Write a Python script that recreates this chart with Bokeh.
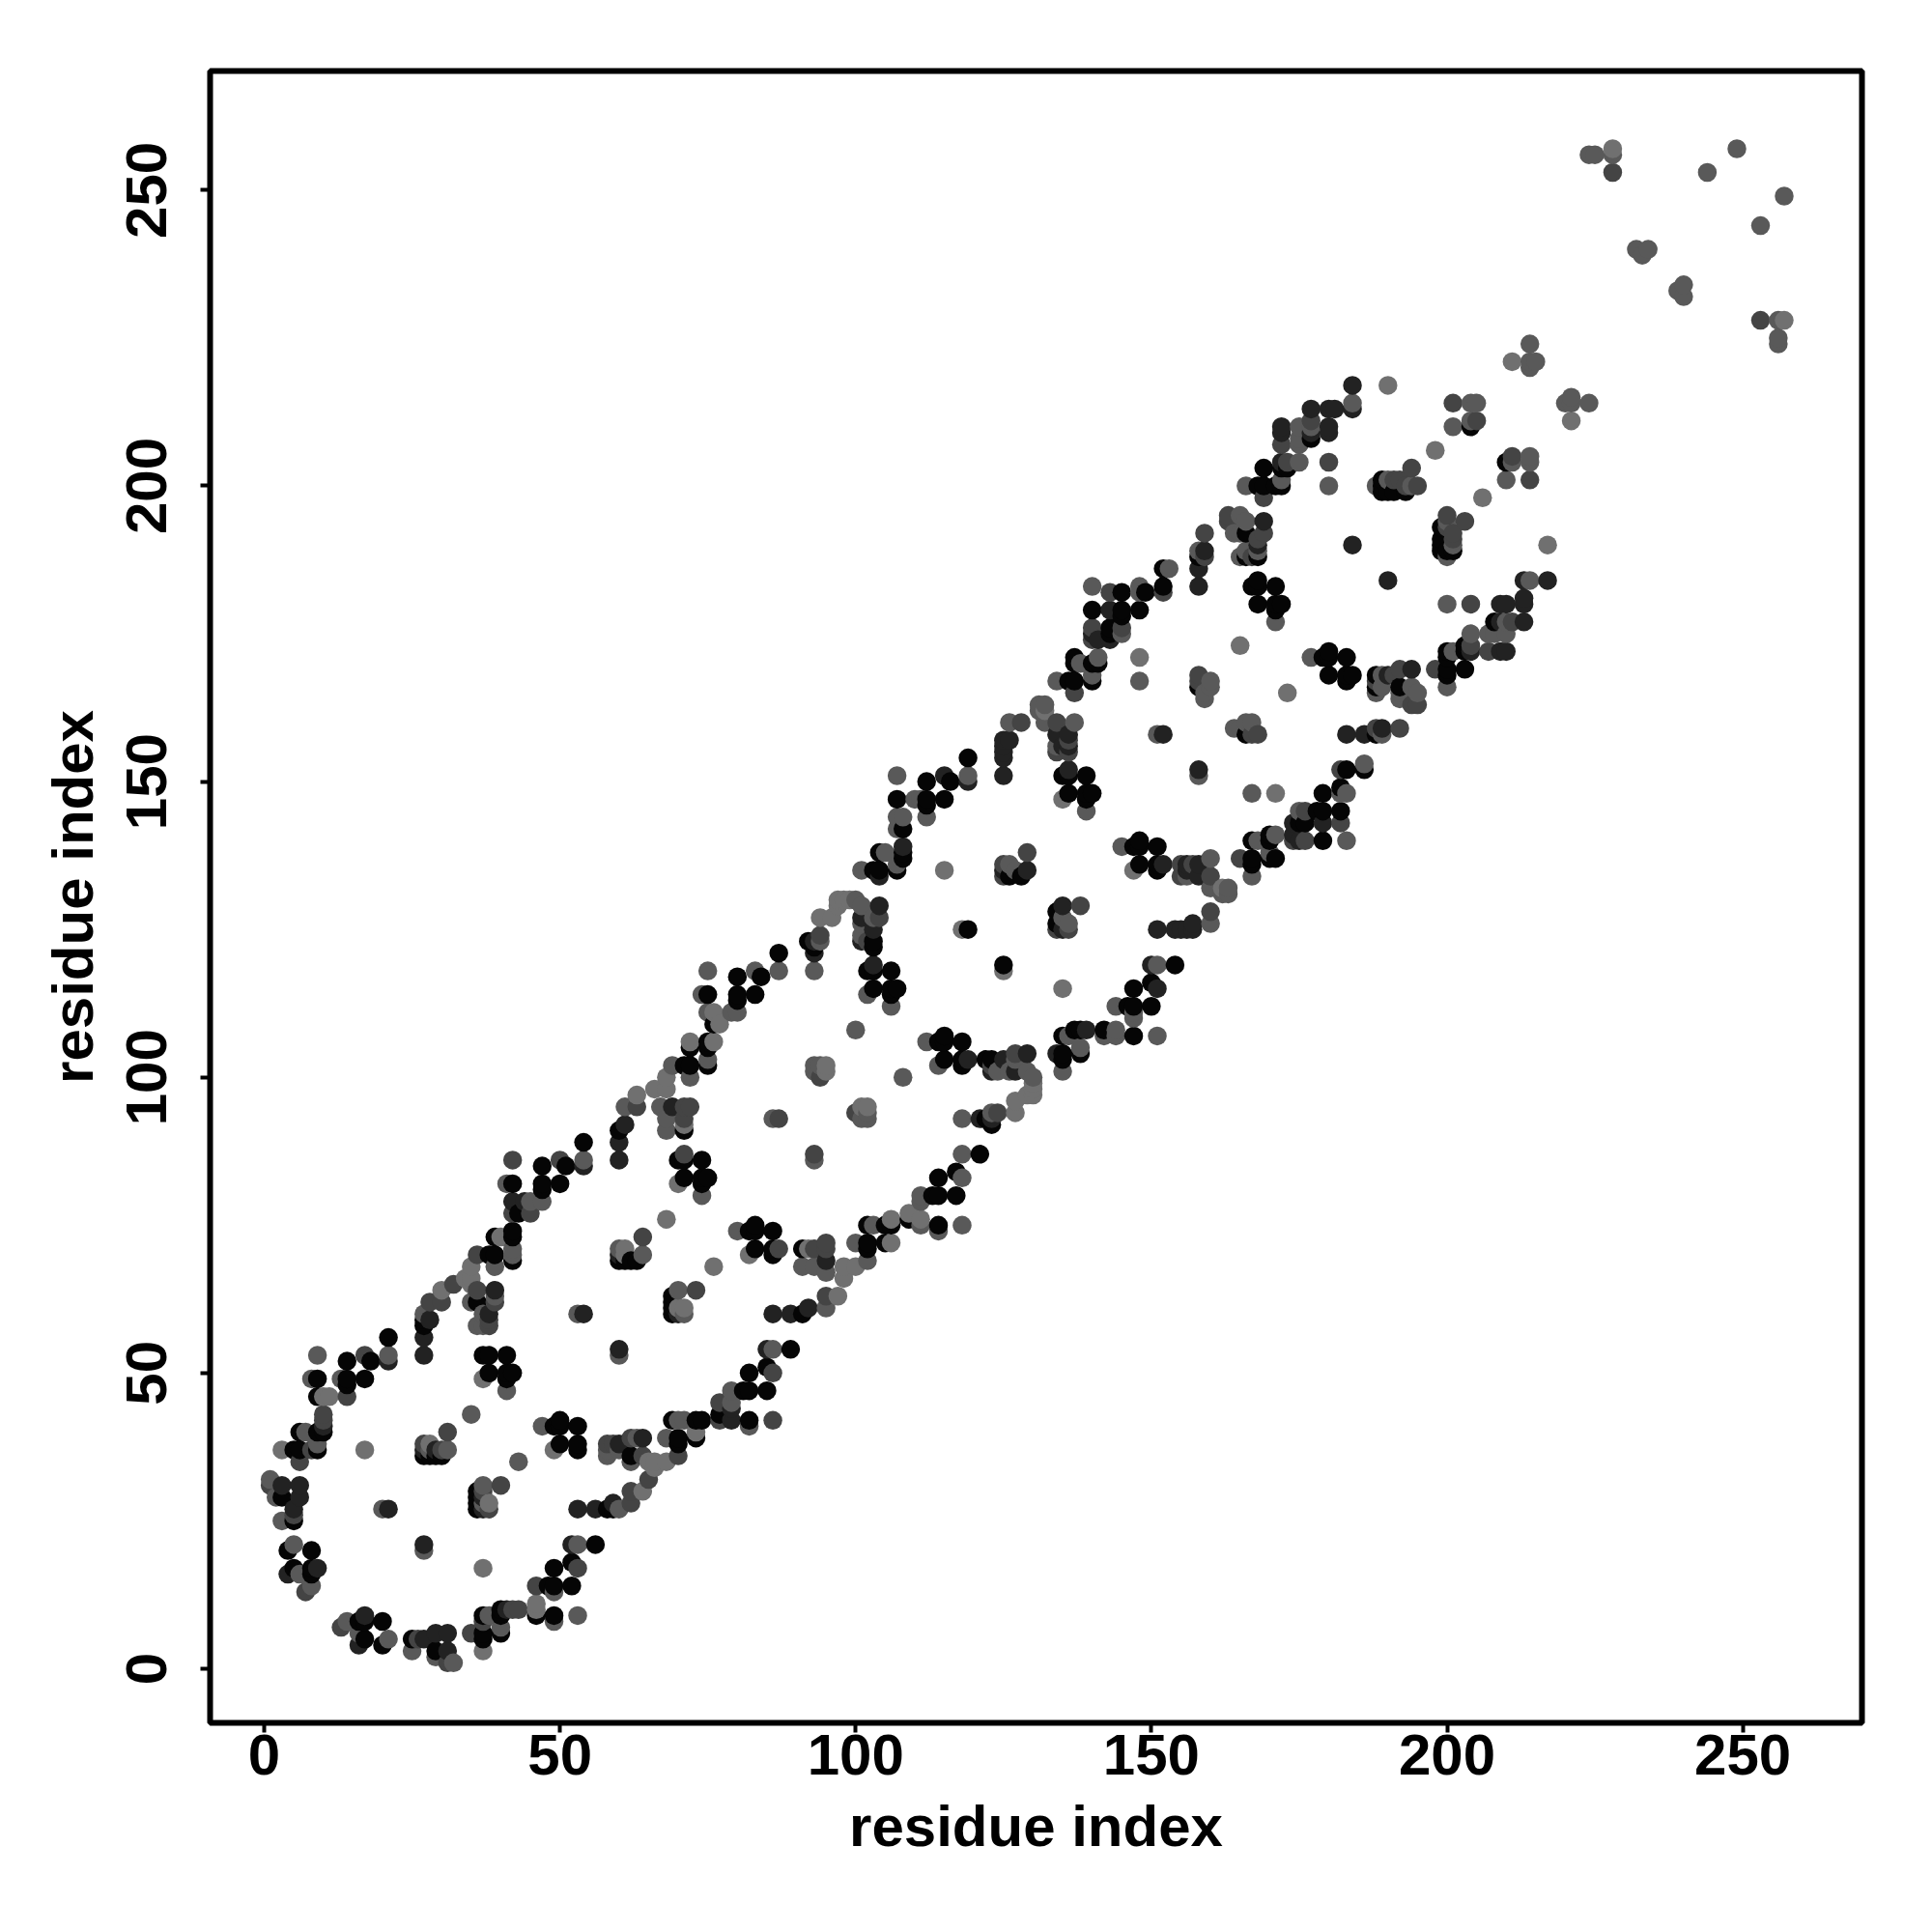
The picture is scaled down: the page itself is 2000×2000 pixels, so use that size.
from bokeh.plotting import figure
from bokeh.models import ColumnDataSource, FixedTicker
from bokeh.embed import file_html
from bokeh.resources import INLINE

tick_values = [0, 50, 100, 150, 200, 250]
axis_title = "residue index"

# contacts, as (lower residue, higher residue); the map is symmetric
black_contacts = [
 (21,56),(18,52),(14,52),(9,49),(14,49),(14,48),(17,49),(9,46),(9,40),(6,40),(9,37),(6,37),(5,37),(3,29),(5,25),
 (4,20),(8,20),(5,17),(8,17),(8,16),(10,40),(27,36),(28,36),(29,36),(30,36),(27,59),(27,58),(36,62),(38,70),(39,70),
 (39,73),(42,74),(42,73),(42,69),(43,77),(42,82),(47,82),(47,81),(50,82),(47,85),(51,85),(54,89),(60,91),(71,91),
 (37,53),(38,53),(41,53),(38,50),(41,50),(42,50),(41,49),(62,69),(63,69),(60,69),(61,69),(74,82),(74,83),(75,83),
 (71,83),(70,86),(74,86),(71,86),(87,121),(84,117),(80,117),(75,114),(80,114),(80,113),(83,114),(76,109),(72,105),
 (75,106),(75,105),(75,102),(72,102),(71,102),(92,123),(93,122),(103,123),(103,122),(102,118),(106,118),(103,115),
 (106,115),(107,115),(106,114),(140,179),(145,179),(145,178),(148,179),(143,176),(140,170),(141,170),
 (137,171),(137,167),(119,154),(107,147),(112,150),(112,147),(112,146),(115,147),(108,142),(108,138),(104,138),
 (107,135),(103,135),(104,135),(135,151),(139,151),(136,148),(139,148),(140,148),(139,147),(158,166),(148,140),
 (147,139),(148,139),(151,139),(148,136),(151,136),(151,135),(167,140),(167,137),(167,136),(170,141),(170,140),
 (170,137),(175,143),(134,128),(134,126),(119,125),(154,119),(147,115),(150,116),(147,112),(146,112),(147,107),
 (135,107),(137,108),(138,104),(135,104),(135,103),(115,107),(114,106),(115,106),(118,106),(115,103),(118,103),
 (118,102),(169,203),(172,203),(172,200),(169,200),(168,200),(166,192),(168,188),(158,188),(168,184),(167,183),
 (168,183),(171,183),(168,180),(171,180),(172,180),(171,179),(179,148),(182,149),(186,152),(182,145),(200,169),
 (200,168),(203,169),(200,172),(203,173),(203,172),(200,171),(192,166),(188,166),(188,168),(208,177),(204,210),
 (199,193),(199,191),(199,189),(201,189),(200,189),(190,199),(193,199),(145,182),(152,183),(152,186),(69,63),(69,60),
]
dark_contacts = [
 (21,52),(9,17),(6,31),(6,29),(5,27),(21,27),(27,56),(27,53),(28,59),(38,60),(39,64),(42,79),(44,79),(60,89),(60,86),
 (61,92),(69,95),(54,85),(4,16),(54,60),(60,70),(93,123),(93,121),(101,123),(104,129),(101,127),(143,179),(141,174),
 (143,174),(125,157),(125,154),(125,156),(125,151),(115,151),(116,150),(184,217),(184,213),(180,213),
 (181,213),(177,213),(177,209),(180,210),(180,209),(172,210),(172,204),(169,194),(168,190),(159,189),(158,186),
 (158,183),(158,152),(184,190),(152,158),(136,152),(103,119),(151,125),(154,125),(155,125),(157,125),(150,119),
 (150,112),(139,108),(138,108),(129,104),(125,103),(213,177),(213,180),(213,181),(210,180),(217,184),(213,184),
 (194,169),(186,158),(183,158),(184,168),(129,135),(128,134),(125,135),(136,156),(135,156),(134,158),(136,158),
 (104,134),(174,141),(175,140),(3,31),(10,41),(27,37),(29,37),(31,6),(6,31),(151,115),(126,157),(172,209),
]
mid_contacts = [
 (17,53),(14,46),(10,43),(6,35),(31,40),(30,37),(27,38),(28,62),(30,62),(32,65),(36,70),(36,64),(38,58),(39,62),(42,77),
 (45,77),(42,86),(50,86),(63,95),(71,93),(72,95),(64,73),(73,64),(71,87),(87,93),(94,124),(103,125),(104,127),(94,100),
 (145,176),(134,160),(143,182),(136,125),(134,125),(138,129),(165,137),(160,134),(155,136),(155,134),(157,136),
 (157,126),(157,125),(204,173),(210,172),(177,211),(180,204),(172,207),(173,204),(159,192),(163,195),(163,194),
 (169,198),(168,191),(167,188),(192,169),(192,159),(194,203),(183,152),(182,152),(201,191),(203,194),(211,205),
 (214,201),(201,214),(205,211),(228,253),(174,143),(160,128),(152,182),(189,159),(188,159),(190,168),(193,200),
 (195,200),(192,201),(195,163),(167,158),(168,158),(134,104),(123,103),(123,102),(71,95),(38,59),(10,42),(1,31),
 (8,37),(13,7),(7,13),(46,14),(14,46),(26,5),(17,5),(25,5),(140,176),(140,174),
]
grey_contacts = [
 (21,53),(9,53),(8,49),(13,49),(7,40),(9,38),(1,32),(2,29),(5,26),(3,25),(5,21),(6,16),(8,14),(7,13),(20,27),(35,43),
 (28,37),(31,37),(41,47),(27,60),(37,60),(37,58),(36,58),(35,62),(39,63),(39,68),(41,82),(47,79),(45,79),(54,86),
 (61,95),(67,95),(68,93),(68,91),(42,70),(42,71),(60,71),(64,70),(70,64),(53,60),(74,80),(75,118),(83,118),(87,118),
 (69,102),(75,103),(75,111),(79,111),(80,111),(74,114),(72,100),(86,93),(93,118),(93,102),(94,102),(93,101),(94,123),
 (101,123),(102,123),(107,151),(119,151),(119,150),(112,144),(110,147),(107,144),(108,139),(107,136),(105,138),
 (101,135),(106,112),(129,138),(126,136),(127,135),(136,126),(135,129),(134,156),(134,167),(137,165),(137,160),
 (140,168),(137,170),(145,139),(151,119),(151,107),(144,112),(147,111),(144,108),(142,107),(136,107),(138,105),
 (135,101),(112,106),(114,102),(127,104),(127,103),(124,101),(126,101),(129,101),(130,100),(108,100),(148,167),
 (158,151),(158,168),(159,165),(166,160),(165,159),(164,159),(167,160),(167,148),(158,189),(166,189),(166,188),
 (164,192),(169,192),(165,195),(166,194),(166,200),(180,200),(153,186),(152,183),(172,201),(175,210),(175,207),
 (175,208),(175,204),(184,214),(171,177),(177,171),(183,148),(186,153),(188,165),(189,168),(188,200),(190,201),
 (192,165),(194,166),(195,165),(200,166),(198,169),(201,172),(204,175),(207,175),(207,172),(209,180),(210,177),
 (210,175),(214,184),(200,180),(200,188),(200,194),(211,204),(210,201),(214,204),(214,205),(204,211),(204,214),
 (205,214),(201,210),(214,221),(215,221),(220,214),(221,214),(221,215),(214,220),(224,214),(224,256),(225,256),
 (232,240),(233,239),(234,240),(239,233),(240,232),(240,234),(228,256),(253,228),(256,228),(256,225),(256,224),
 (244,253),(249,257),(140,183),(148,182),(163,132),(163,131),(162,131),(160,132),(160,137),(160,126),
 (167,134),(168,140),(171,141),(170,138),(176,145),(175,145),
]
light_contacts = [
 (17,37),(10,46),(11,46),(3,37),(28,38),(34,66),(35,66),(35,65),(35,68),(30,64),(63,97),(66,98),(68,98),(68,100),
 (68,76),(71,92),(71,60),(71,61),(61,70),(40,73),(37,49),(76,111),(77,109),(72,106),(76,106),(70,82),(100,108),
 (94,127),(96,127),(97,129),(97,130),(98,130),(99,130),(101,124),(95,102),(95,101),(102,114),(115,135),
 (126,160),(128,160),(131,163),(132,163),(131,162),(132,162),(132,160),(135,147),(148,171),(165,173),(173,165),
 (160,167),(118,125),(171,148),(190,217),(206,198),(198,206),(217,190),
 (228,257),(257,228),(211,221),(221,211),
]
shades = [
    ("#050505", black_contacts),
    ("#222222", dark_contacts),
    ("#444444", mid_contacts),
    ("#595959", grey_contacts),
    ("#707070", light_contacts),
]

shade_of = {}
for colour, pairs in shades:
    for a, b in pairs:
        key = (min(a, b), max(a, b))
        shade_of.setdefault(key, colour)
points = {}
for (a, b), colour in shade_of.items():
    points[(a, b)] = colour
    points[(b, a)] = colour
ordered = sorted(points)
source = ColumnDataSource(data=dict(
    x=[k[0] for k in ordered],
    y=[k[1] for k in ordered],
    c=[points[k] for k in ordered],
))

p = figure(
    frame_width=1710, frame_height=1710,
    x_range=(-9.15, 270.15), y_range=(-9.15, 270.15),
    output_backend="svg", toolbar_location=None,
    min_border_left=217, min_border_right=40, min_border_top=73, min_border_bottom=170,
    background_fill_color="white", border_fill_color="white",
)
p.grid.visible = False
p.outline_line_color = "black"
p.outline_line_width = 6
p.scatter("x", "y", source=source, size=19.5, fill_color="c", line_color=None)

for ax in (p.xaxis[0], p.yaxis[0]):
    ax.ticker = FixedTicker(ticks=tick_values)
    ax.axis_line_color = None
    ax.major_tick_line_color = "black"
    ax.major_tick_line_width = 4
    ax.major_tick_out = 10
    ax.major_tick_in = 0
    ax.minor_tick_line_color = None
    ax.major_label_text_font = "Liberation Sans"
    ax.major_label_text_font_style = "bold"
    ax.major_label_text_font_size = "60px"
    ax.major_label_text_color = "black"
    ax.axis_label = axis_title
    ax.axis_label_text_font = "Liberation Sans"
    ax.axis_label_text_font_style = "bold"
    ax.axis_label_text_font_size = "60px"
    ax.axis_label_text_color = "black"
p.xaxis[0].major_label_standoff = 2
p.xaxis[0].axis_label_standoff = 17
p.yaxis[0].major_label_orientation = "vertical"
p.yaxis[0].major_label_standoff = 35
p.yaxis[0].axis_label_standoff = 20

open("out.html", "w").write(file_html(p, INLINE))
